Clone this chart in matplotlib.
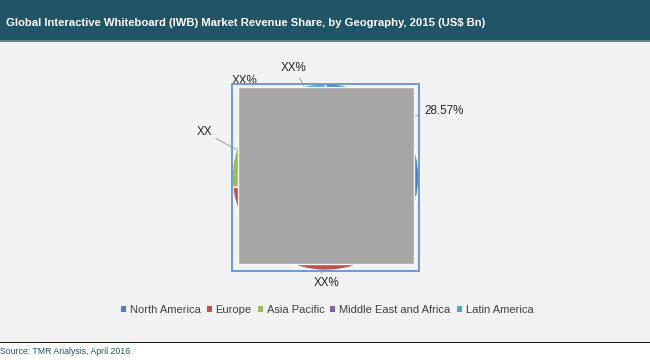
import matplotlib
matplotlib.use('Agg')
import matplotlib.pyplot as plt
import numpy as np
from matplotlib.patches import Rectangle, Patch
from matplotlib import font_manager

plt.rcParams['font.family'] = ['Liberation Sans', 'DejaVu Sans']
names = {f.name for f in font_manager.fontManager.ttflist}
title_family = ['Liberation Sans Narrow', 'Liberation Sans'] if 'Liberation Sans Narrow' in names else ['Liberation Sans']
title_size = 10.8 if 'Liberation Sans Narrow' in names else 8.1

# data
regions = ['North America', 'Europe', 'Asia Pacific', 'Middle East and Africa', 'Latin America']
shares = [28.57, 44.63, 13.1, 6.3, 7.4]
labels = ['28.57%', 'XX%', 'XX', 'XX%', 'XX%']
colors = ['#4f81bd', '#c0504d', '#9bbb59', '#8064a2', '#4bacc6']

title = 'Global Interactive Whiteboard (IWB) Market Revenue Share, by Geography, 2015 (US$ Bn)'
source = 'Source: TMR Analysis, April 2016'

W, H = 650, 360
fig = plt.figure(figsize=(W / 100, H / 100), dpi=100)
fig.patch.set_facecolor('white')


def px(x, y, w, h):
    # pixel box (top-left origin) -> figure fraction
    return (x / W, 1 - (y + h) / H), w / W, h / H


def box(x, y, w, h, **kw):
    xy, ww, hh = px(x, y, w, h)
    r = Rectangle(xy, ww, hh, transform=fig.transFigure, **kw)
    fig.add_artist(r)
    return r


# backgrounds
box(0, 43, W, 299, facecolor='#f2f2f2', edgecolor='none', zorder=0)
box(0, 0, W, 40, facecolor='#1f5566', edgecolor='none', zorder=0)
box(0, 40, W, 1.5, facecolor='#5b8594', edgecolor='none', zorder=0)
box(0, 341.5, W, 1.6, facecolor='#1a1a1a', edgecolor='none', zorder=0)

fig.text(6 / W, 1 - 23 / H, title, color='white', fontsize=title_size, fontweight='bold',
         va='center', ha='left', family=title_family)
fig.text(0, 1 - 352 / H, source, color='#1f5566', fontsize=6.3, va='center', ha='left')

# pie axes: center (325.5, 177) px, radius 93.5 px
cx, cy, R = 325.5, 177, 93.5
ax = fig.add_axes([(cx - R) / W, 1 - (cy + R) / H, 2 * R / W, 2 * R / H])
wedges, _ = ax.pie(shares, colors=colors, startangle=90, counterclock=False, radius=1,
                   wedgeprops=dict(edgecolor='white', linewidth=1.2))
ax.set_xlim(-1, 1)
ax.set_ylim(-1, 1)
ax.set_aspect('equal')
ax.axis('off')

# label text positions (pixels)
label_pos = [(424, 111, 'left'), (327, 283, 'center'), (212, 132, 'right'),
             (245, 81, 'center'), (294, 68, 'center')]
for w, lab, (lx, ly, ha) in zip(wedges, labels, label_pos):
    mid = np.deg2rad((w.theta1 + w.theta2) / 2)
    tx = (lx - cx) / R
    ty = (cy - ly) / R
    ax.annotate(lab, xy=(np.cos(mid), np.sin(mid)), xytext=(tx, ty),
                ha=ha, va='center', fontsize=8.4, color='#262626',
                annotation_clip=False,
                arrowprops=dict(arrowstyle='-', color='#a6a6a6', lw=0.8,
                                shrinkA=1, shrinkB=0))

# overlay boxes
box(231.5, 83.5, 187, 187.5, facecolor='none', edgecolor='#6f99d6', linewidth=1.4, zorder=9)
box(238, 87, 176, 177, facecolor='#a6a6a6', edgecolor='#f7f7f7', linewidth=1.0, zorder=10)

handles = [Patch(facecolor=c, edgecolor='none') for c in colors]
fig.legend(handles, regions, loc='center', bbox_to_anchor=(327 / W, 1 - 310 / H),
           ncol=5, frameon=False, fontsize=8, handlelength=0.45, handleheight=0.45,
           handletextpad=0.35, columnspacing=0.55, labelcolor='#404040')

fig.savefig('out.png', dpi=100, facecolor=fig.get_facecolor())
